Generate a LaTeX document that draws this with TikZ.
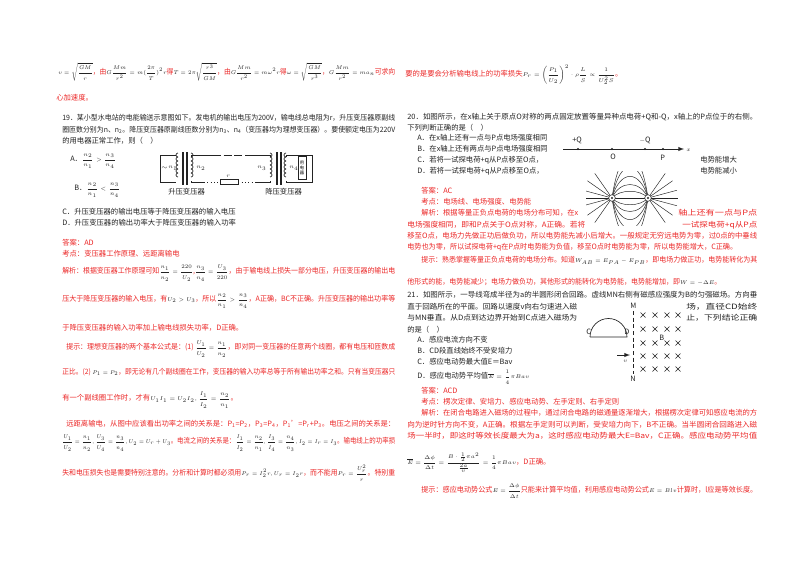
\documentclass[tikz,border=0pt]{standalone}
\usepackage{fontspec}
\setmainfont{Noto Sans CJK SC}
\usepackage{amsmath}
\usepackage{graphicx}
\definecolor{ansred}{RGB}{236,40,40}
\definecolor{ink}{RGB}{35,35,35}
\newcommand\K[1]{\textcolor{ink}{\scalebox{0.82}{$\displaystyle #1$}}}
\newcommand\fitw[2]{\resizebox{#1\dimexpr 0.75pt\relax}{\height}{#2}}
\newcommand\mytxt[4]{\node[txt] (#1) at (#2,#3) {#4};}
\newcommand\myred[4]{\node[txt,text=ansred] (#1) at (#2,#3) {#4};}
\tikzset{txt/.style={anchor=west,inner sep=0pt,text=ink,font=\fontsize{5.5}{7}\selectfont},
 wire/.style={draw=ink,line width=0.5pt},
 fl/.style={draw=ink,line width=0.35pt}}
\begin{document}
\begin{tikzpicture}[x=0.75pt,y=-0.75pt]
\useasboundingbox[fill=white] (0,0) rectangle (800,565);
% ---------- left column ----------
\myred{a1}{58}{72}{\fitw{337}{\K{v=\sqrt{\frac{GM}{r}}}，由\K{G\frac{Mm}{r^2}=m(\frac{2\pi}{T})^2r}得\K{T=2\pi\sqrt{\frac{r^3}{GM}}}，由\K{G\frac{Mm}{r^2}=m\omega^2r}得\K{\omega=\sqrt{\frac{GM}{r^3}}}，\K{G\frac{Mm}{r^2}=ma_n}可求向}}
\myred{a2}{56}{98}{心加速度。}
\mytxt{q1}{62}{118}{\fitw{333}{19．某小型水电站的电能输送示意图如下。发电机的输出电压为200V，输电线总电阻为r，升压变压器原副线}}
\mytxt{q2}{62}{130}{\fitw{333}{圈匝数分别为n、n\textsubscript{2}。降压变压器原副线匝数分别为n\textsubscript{3}、n\textsubscript{4}（变压器均为理想变压器）。要使额定电压为220V}}
\mytxt{q3}{62}{141}{的用电器正常工作，则（　）}
\mytxt{qa}{70}{161}{A．\K{\frac{n_2}{n_1}>\frac{n_3}{n_4}}}
\mytxt{qb}{74}{190}{B．\K{\frac{n_2}{n_1}<\frac{n_3}{n_4}}}
\mytxt{qc}{62}{212}{C．升压变压器的输出电压等于降压变压器的输入电压}
\mytxt{qd}{62}{223}{D．升压变压器的输出功率大于降压变压器的输入功率}
\myred{r1}{62}{243}{答案：AD}
\myred{r2}{62}{254}{考点：变压器工作原理、远距离输电}
\myred{r3}{62}{273}{\fitw{333}{解析：根据变压器工作原理可知\K{\frac{n_1}{n_2}=\frac{220}{U_2}},\K{\frac{n_3}{n_4}=\frac{U_3}{220}}，由于输电线上损失一部分电压，升压变压器的输出电}}
\myred{r4}{62}{301}{\fitw{333}{压大于降压变压器的输入电压，有\K{U_2>U_3}，所以\K{\frac{n_2}{n_1}>\frac{n_3}{n_4}}，A正确，BC不正确。升压变压器的输出功率等}}
\myred{r5}{62}{328}{于降压变压器的输入功率加上输电线损失功率，D正确。}
\myred{r6}{66}{349}{\fitw{329}{提示：理想变压器的两个基本公式是：(1) \K{\frac{U_1}{U_2}=\frac{n_1}{n_2}}，即对同一变压器的任意两个线圈，都有电压和匝数成}}
\myred{r7}{62}{372}{\fitw{333}{正比。(2) \K{P_1=P_2}，即无论有几个副线圈在工作，变压器的输入功率总等于所有输出功率之和。只有当变压器只}}
\myred{r8}{62}{400}{有一个副线圈工作时，才有\K{U_1I_1=U_2I_2,\frac{I_1}{I_2}=\frac{n_2}{n_1}}。}
\myred{r9}{66}{424}{\fitw{329}{远距离输电，从图中应该看出功率之间的关系是：\textit{P}\textsubscript{1}=\textit{P}\textsubscript{2}，\textit{P}\textsubscript{3}=\textit{P}\textsubscript{4}，\textit{P}\textsubscript{1}'=\textit{P}\textsubscript{r}+\textit{P}\textsubscript{3}。电压之间的关系是：}}
\myred{r10}{62}{443}{\fitw{333}{\K{\frac{U_1}{U_2}=\frac{n_1}{n_2},\frac{U_3}{U_4}=\frac{n_3}{n_4},U_2=U_r+U_3}。电流之间的关系是：\K{\frac{I_1}{I_2}=\frac{n_2}{n_1},\frac{I_3}{I_4}=\frac{n_4}{n_3},I_2=I_r=I_3}。输电线上的功率损}}
\myred{r11}{62}{473}{\fitw{333}{失和电压损失也是需要特别注意的。分析和计算时都必须用\K{P_r=I_2^2r,U_r=I_2r}，而不能用\K{P_r=\frac{U_r^2}{r}}。特别重}}
% ---------- transformer figure ----------
\draw[wire] (176,155) -- (160,155) -- (160,182) -- (176,182);
\node[txt,font=\fontsize{6}{7}\selectfont] (tilde) at (161,168) {\K{\sim}};
\node[txt] (n1) at (168,168) {\K{n_1}};
\foreach \k in {0,...,5}{\draw[wire] (178,157+\k*4) arc (90:270:2);}
\draw[draw=ink,line width=1.3pt] (183,152) -- (183,185) (187,152) -- (187,185);
\foreach \k in {0,...,5}{\draw[wire] (191,157+\k*4) arc (90:-90:2);}
\node[txt] (n2) at (196,168) {\K{n_2}};
\draw[wire] (191,157) -- (191,155) -- (213,155);
\draw[wire,dash pattern=on 6pt off 2pt] (213,155) -- (248,155);
\draw[wire] (248,155) -- (270,155) -- (270,157);
\draw[wire] (191,181) -- (191,182) -- (204,182);
\draw[wire,dotted] (204,182) -- (220,182);
\node[draw=ink,line width=0.5pt,minimum width=13.5pt,minimum height=3.5pt,inner sep=0pt] (res) at (229,182) {};
\node[txt] (rl) at (226,176) {\K{\scriptstyle r}};
\draw[wire,dotted] (res.east) -- (256,182);
\draw[wire] (256,182) -- (270,182) -- (270,181);
\node[txt] (n3) at (257,168) {\K{n_3}};
\foreach \k in {0,...,5}{\draw[wire] (270,157+\k*4) arc (90:-90:2);}
\draw[draw=ink,line width=1.3pt] (277,152) -- (277,185) (281,152) -- (281,185);
\foreach \k in {0,...,5}{\draw[wire] (286,157+\k*4) arc (90:270:2);}
\node[txt] (n4) at (289,168) {\K{n_4}};
\draw[wire] (286,157) -- (286,155) -- (312,155) -- (312,182) -- (286,182) -- (286,181);
\node[draw=ink,fill=white,line width=0.5pt,minimum width=6pt,minimum height=17pt,inner sep=0pt,font=\fontsize{3.2}{3.4}\selectfont,align=center] (load) at (302,168) {用\\电\\器};
\node[txt] (lab1) at (168,192) {升压变压器};
\node[txt] (lab2) at (265,192) {降压变压器};
% ---------- right column ----------
\myred{s1}{405}{75}{要的是要会分析输电线上的功率损失\K{P_r=\left(\frac{P_1}{U_2}\right)^2\cdot\rho\frac{L}{S}\propto\frac{1}{U_2^2S}}。}
\mytxt{b1}{407}{117}{\fitw{350}{20．如图所示，在x轴上关于原点O对称的两点固定放置等量异种点电荷+Q和-Q，x轴上的P点位于的右侧。}}
\mytxt{b2}{407}{128}{下列判断正确的是（　）}
\mytxt{ba}{417}{138}{A．在x轴上还有一点与P点电场强度相同}
\mytxt{bb}{417}{149}{B．在x轴上还有两点与P点电场强度相同}
\mytxt{bc}{417}{160}{C．若将一试探电荷+q从P点移至O点，}
\mytxt{bd}{417}{171}{D．若将一试探电荷+q从P点移至O点，}
\mytxt{bc2}{700}{160}{电势能增大}
\mytxt{bd2}{700}{171}{电势能减小}
% axis
\coordinate (ax0) at (563,149);
\coordinate (ax1) at (684,149);
\draw[wire,-latex] (ax0) -- (ax1);
\foreach \xx/\nm in {578/pq,612/po,645/mq,663/pp}{\fill[ink] (\xx,149) circle (0.9pt) coordinate (\nm);}
\node[txt] (lq) at (572,140) {+Q};
\node[txt] (lo) at (610,157) {O};
\node[txt] (lm) at (639,140) {\K{-}Q};
\node[txt] (lp) at (660,158) {P};
\node[txt] (lx) at (686,150) {\K{x}};
% field lines
\begin{scope}
\clip (586,171) rectangle (680,225);
\foreach \h in {5,10,16,23,31}{
 \draw[fl] (612,198) .. controls (620,198-1.8*\h) and (640,198-1.8*\h) .. (648,198);
 \draw[fl] (612,198) .. controls (620,198+1.8*\h) and (640,198+1.8*\h) .. (648,198);}
\draw[fl] (612,198) -- (648,198);
\foreach \a in {125,145,165,180,195,215,235}{\draw[fl] (612,198) -- ++(\a:30);}
\foreach \a in {-55,-35,-15,0,15,35,55}{\draw[fl] (648,198) -- ++(\a:30);}
\end{scope}
\node[draw=ink,fill=white,circle,inner sep=0pt,minimum size=5pt] (cq1) at (612,198) {};
\node[draw=ink,fill=white,circle,inner sep=0pt,minimum size=5pt] (cq2) at (648,198) {};
\fill[ink] (cq1) circle (0.8pt) (cq2) circle (0.8pt);
\myred{c1}{421}{191}{答案：AC}
\myred{c2}{421}{202}{考点：电场线、电场强度、电势能}
\myred{c3}{421}{213}{\fitw{157}{解析：根据等量正负点电荷的电场分布可知，在x}}
\myred{c3b}{678}{213}{\fitw{79}{轴上还有一点与P点}}
\myred{c4}{407}{225}{\fitw{178}{电场强度相同，即和P点关于O点对称，A正确。若将}}
\myred{c4b}{682}{225}{\fitw{75}{一试探电荷+q从P点}}
\myred{c5}{407}{236}{\fitw{350}{移至O点，电场力先做正功后做负功，所以电势能先减小后增大。一般规定无穷远电势为零，过0点的中垂线}}
\myred{c6}{407}{247}{\fitw{330}{电势也为零，所以试探电荷+q在P点时电势能为负值，移至O点时电势能为零，所以电势能增大，C正确。}}
\myred{c7}{421}{260}{\fitw{336}{提示：熟悉掌握等量正负点电荷的电场分布。知道\K{W_{AB}=E_{PA}-E_{PB}}，即电场力做正功，电势能转化为其}}
\myred{c8}{407}{282}{\fitw{314}{他形式的能，电势能减少；电场力做负功，其他形式的能转化为电势能，电势能增加，即\K{W=-\Delta E}。}}
% ---------- question 21 ----------
\mytxt{d1}{407}{295}{\fitw{350}{21．如图所示，一导线弯成半径为a的半圆形闭合回路。虚线MN右侧有磁感应强度为B的匀强磁场。方向垂}}
\mytxt{d2}{407}{307}{\fitw{170}{直于回路所在的平面。回路以速度v向右匀速进入磁}}
\mytxt{d2b}{686}{307}{\fitw{71}{场，直径CD始终}}
\mytxt{d3}{407}{318}{\fitw{170}{与MN垂直。从D点到达边界开始到C点进入磁场为}}
\mytxt{d3b}{686}{318}{\fitw{71}{止，下列结论正确}}
\mytxt{d4}{407}{330}{的是（　）}
\mytxt{da}{417}{340}{A．感应电流方向不变}
\mytxt{db}{417}{351}{B．CD段直线始终不受安培力}
\mytxt{dc}{417}{362}{C．感应电动势最大值E＝Bav}
\mytxt{dd}{417}{377}{D．感应电动势平均值\K{\overline{E}=\frac{1}{4}\pi Bav}}
% figure 21
\coordinate (mtop) at (633,311);
\coordinate (nbot) at (633,374);
\draw[wire,densely dashed] (mtop) -- (nbot);
\node[txt] (lM) at (630,306) {M};
\node[txt] (lN) at (630,379) {N};
\foreach \xx in {643,655,667,678}{\foreach \yy in {315,329,343,356,369}{
 \draw[draw=ink,line width=0.4pt] (\xx-2.5,\yy-2.5) -- (\xx+2.5,\yy+2.5) (\xx-2.5,\yy+2.5) -- (\xx+2.5,\yy-2.5);}}
\node[txt] (lB) at (659,338) {B};
\coordinate (cC) at (590,337);
\coordinate (cD) at (627,337);
\draw[wire] (cC) -- (cD) arc (0:-180:18.5);
\node[txt] (lC) at (586,332) {C};
\node[txt] (lD) at (624,332) {D};
\coordinate (v0) at (617,355);
\coordinate (v1) at (630,355);
\draw[wire,-latex] (v0) -- (v1);
\node[txt] (lv) at (623,361) {\K{v}};
\myred{e1}{421}{391}{答案：ACD}
\myred{e2}{421}{402}{考点：楞次定律、安培力、感应电动势、左手定则、右手定则}
\myred{e3}{421}{413}{\fitw{336}{解析：在闭合电路进入磁场的过程中，通过闭合电路的磁通量逐渐增大，根据楞次定律可知感应电流的方}}
\myred{e4}{407}{425}{\fitw{350}{向为逆时针方向不变，A正确。根据左手定则可以判断，受安培力向下，B不正确。当半圆闭合回路进入磁}}
\myred{e5}{407}{436}{\fitw{350}{场一半时，即这时等效长度最大为a，这时感应电动势最大E=Bav，C正确。感应电动势平均值}}
\myred{e6}{407}{463}{\K{\overline{E}=\frac{\Delta\phi}{\Delta t}=\frac{B\cdot\frac{1}{2}\pi a^2}{\frac{2a}{v}}=\frac{1}{4}\pi Bav}，D正确。}
\myred{e7}{421}{491}{\fitw{336}{提示：感应电动势公式\K{E=\frac{\Delta\phi}{\Delta t}}只能来计算平均值，利用感应电动势公式\K{E=Blv}计算时，l应是等效长度。}}
\end{tikzpicture}
\end{document}
